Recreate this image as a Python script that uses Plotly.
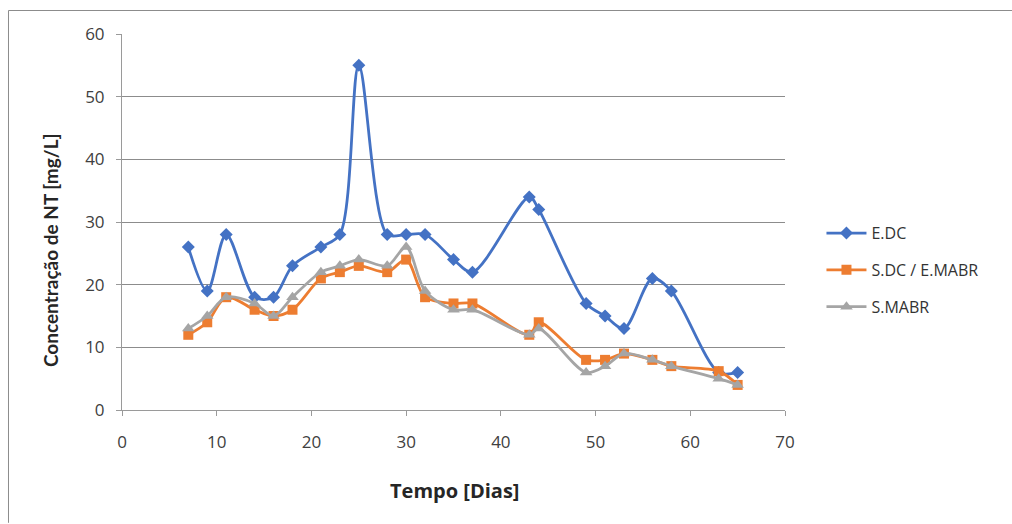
import plotly.graph_objects as go

# Sampling days (shared by all three series)
dias = [7, 9, 11, 14, 16, 18, 21, 23, 25, 28, 30, 32, 35, 37, 43, 44, 49, 51, 53, 56, 58, 63, 65]

# Total nitrogen concentration [mg/L]
edc = [26, 19, 28, 18, 18, 23, 26, 28, 55, 28, 28, 28, 24, 22, 34, 32, 17, 15, 13, 21, 19, 6, 6]
sdc_emabr = [12, 14, 18, 16, 15, 16, 21, 22, 23, 22, 24, 18, 17, 17, 12, 14, 8, 8, 9, 8, 7, 6.2, 4]
smabr = [13, 15, 18, 17, 15, 18, 22, 23, 24, 23, 26, 19, 16, 16, 12, 13, 6, 7, 9, 8, 7, 5, 4]

nomes = ["E.DC", "S.DC / E.MABR", "S.MABR"]
cores = ["#4472C4", "#ED7D31", "#A5A5A5"]
simbolos = ["diamond", "square", "triangle-up"]
tamanhos = [10, 10, 11]

x_ticks = [0, 10, 20, 30, 40, 50, 60, 70]
y_ticks = [0, 10, 20, 30, 40, 50, 60]

fig = go.Figure()
for nome, serie, cor, simb, tam in zip(nomes, [edc, sdc_emabr, smabr], cores, simbolos, tamanhos):
    fig.add_trace(go.Scatter(
        x=dias, y=serie, name=nome, legendgroup=nome, mode="lines+markers",
        line=dict(color=cor, width=2.8, shape="spline", smoothing=0.9),
        marker=dict(symbol=simb, size=tam, color=cor),
    ))

font_family = "'Open Sans', Lato, sans-serif"
fig.update_layout(
    width=1012, height=524,
    margin=dict(l=122, r=227, t=34, b=114),
    paper_bgcolor="white", plot_bgcolor="white",
    font=dict(family=font_family, color="#404040", size=16),
    showlegend=True,
    legend=dict(
        x=1.055, y=0.372, xanchor="left", yanchor="middle",
        font=dict(size=16, color="#333333"),
        tracegroupgap=13, itemwidth=40,
        bgcolor="rgba(0,0,0,0)",
    ),
    xaxis=dict(
        range=[0, 70], tickvals=x_ticks, showgrid=False,
        showline=True, linecolor="#9a9a9a", linewidth=1,
        ticks="outside", ticklen=5, tickcolor="#9a9a9a",
        tickfont=dict(size=17, color="#404040"),
        ticklabelstandoff=12,
        zeroline=False,
    ),
    yaxis=dict(
        range=[0, 60], tickvals=y_ticks, showgrid=True, gridcolor="#8c8c8c", gridwidth=1,
        showline=True, linecolor="#9a9a9a", linewidth=1,
        ticks="outside", ticklen=5, tickcolor="#9a9a9a",
        tickfont=dict(size=17, color="#404040"),
        ticklabelstandoff=8,
        zeroline=False,
    ),
    annotations=[
        dict(text="<b>Tempo [Dias]</b>", xref="paper", yref="paper",
             x=0.502, y=-0.2128, xanchor="center", yanchor="middle", showarrow=False,
             font=dict(family=font_family, size=20, color="#262626")),
        dict(text="<b>Concentração de NT [mg/L]</b>", xref="paper", yref="paper",
             x=-0.1086, y=0.4255, xanchor="center", yanchor="middle", showarrow=False,
             textangle=-90,
             font=dict(family="Lato, sans-serif", size=19, color="#262626")),
    ],
    shapes=[
        dict(type="line", xref="paper", yref="paper",
             x0=-0.1712, x1=-0.1712, y0=-0.3, y1=1.0625,
             line=dict(color="#8c8c8c", width=1)),
        dict(type="line", xref="paper", yref="paper",
             x0=-0.1712, x1=1.4, y0=1.0625, y1=1.0625,
             line=dict(color="#8c8c8c", width=1)),
    ],
)

fig.write_html("out.html")
